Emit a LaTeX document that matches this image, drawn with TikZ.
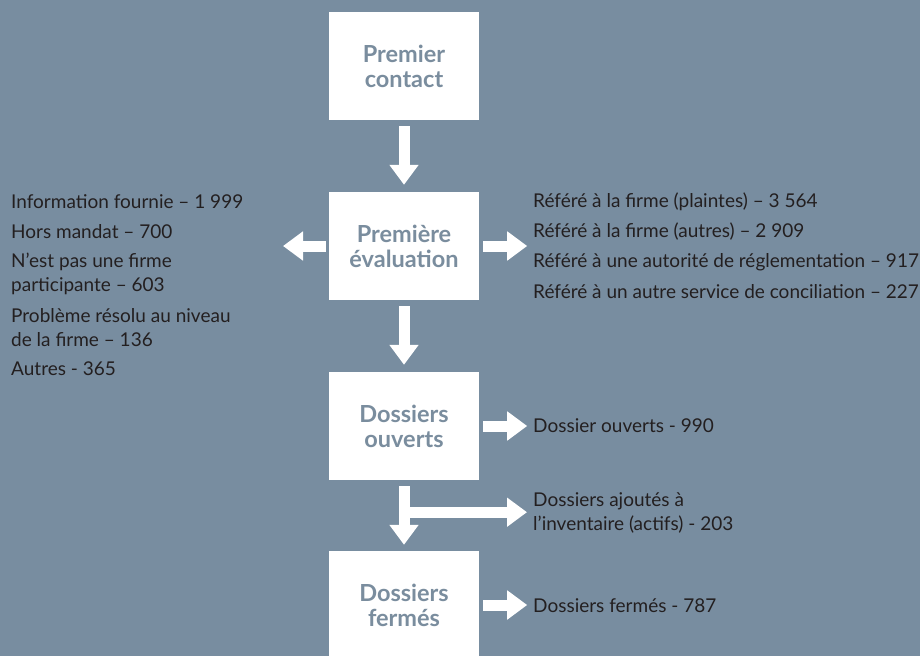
\documentclass[tikz,border=0pt]{standalone}
\usepackage{fontspec}
\setmainfont{Lato}
\usetikzlibrary{arrows.meta}
\definecolor{bg}{HTML}{788DA0}
\definecolor{boxtxt}{HTML}{7A8D9E}
\definecolor{ink}{HTML}{231F20}
\begin{document}
\begin{tikzpicture}[x=1pt,y=-1pt,
  box/.style={fill=white, minimum width=150pt, minimum height=108pt, inner sep=0pt,
    text=boxtxt, font=\bfseries\fontsize{23.5}{25}\selectfont, align=center},
  lbl/.style={text=ink, font=\fontsize{19}{24}\selectfont, anchor=west, align=left, inner sep=0pt},
  blk/.style={draw=white, line width=11pt, -{Triangle[width=28pt,length=20pt]}}
]
\fill[bg] (0,0) rectangle (920,656);
\useasboundingbox (0,0) rectangle (920,656);
\node[box] (b1) at (404,66) {Premier\\contact};
\node[box] (b2) at (404,246) {Première\\évaluation};
\node[box] (b3) at (404,426) {Dossiers\\ouverts};
\node[box] (b4) at (404,605) {Dossiers\\fermés};
% left list
\node[lbl] (l1) at (11,202) {Information fournie – 1 999};
\node[lbl] (l2) at (11,232) {Hors mandat – 700};
\node[lbl] (l3) at (11,273.5) {N’est pas une firme\\participante – 603};
\node[lbl] (l4) at (11,327.5) {Problème résolu au niveau\\de la firme – 136};
\node[lbl] (l5) at (11,369) {Autres - 365};
% right list
\node[lbl] (r1) at (533,202) {Référé à la firme (plaintes) – 3 564};
\node[lbl] (r2) at (533,232) {Référé à la firme (autres) – 2 909};
\node[lbl] (r3) at (533,262) {Référé à une autorité de réglementation – 917};
\node[lbl] (r4) at (533,292) {Référé à un autre service de conciliation – 227};
\node[lbl] (o1) at (533,426) {Dossier ouverts - 990};
\node[lbl] (o2) at (533,513) {Dossiers ajoutés à\\l’inventaire (actifs) - 203};
\node[lbl] (f1) at (533,606) {Dossiers fermés - 787};
% free ends
\coordinate (lt) at (283,246);
\coordinate (br) at ([yshift=-32pt]b3.south);
\coordinate (bt) at (527,512);
% arrows
\draw[blk] ([yshift=-6pt]b1.south) -- ([yshift=7pt]b2.north);
\draw[blk] ([xshift=-3pt]b2.west) -- (lt);
\draw[blk] ([xshift=4pt]b2.east) -- ([xshift=48pt]b2.east);
\draw[blk] ([yshift=-6pt]b2.south) -- ([yshift=7pt]b3.north);
\draw[blk] ([xshift=4pt]b3.east) -- ([xshift=48pt]b3.east);
\draw[blk] ([yshift=-6pt]b3.south) -- ([yshift=6pt]b4.north);
\draw[blk] (br) -- (br -| bt);
\draw[blk] ([xshift=4pt]b4.east) -- ([xshift=48pt]b4.east);
\end{tikzpicture}
\end{document}
